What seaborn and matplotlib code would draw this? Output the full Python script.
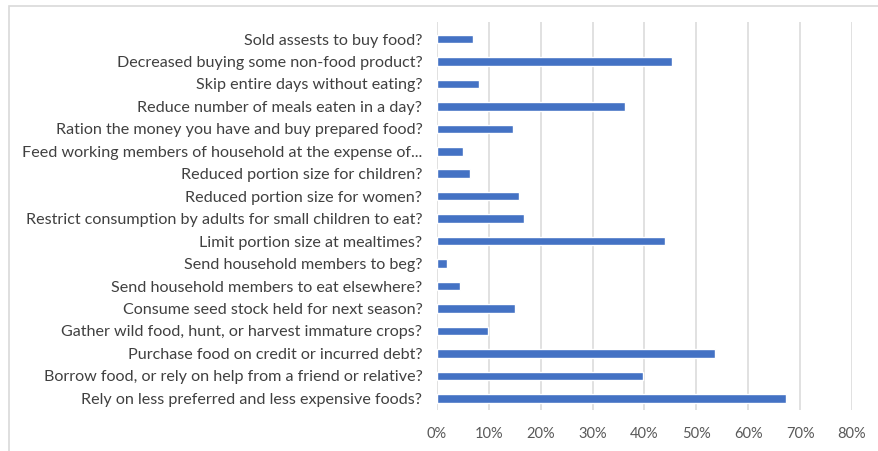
import matplotlib
matplotlib.use("Agg")
import matplotlib.pyplot as plt
import matplotlib.patches as mpatches
from matplotlib.ticker import FuncFormatter
import pandas as pd
import seaborn as sns

# Coping strategies and share of households reporting each
strategies = [
    "Sold assests to buy food?",
    "Decreased buying some non-food product?",
    "Skip entire days without eating?",
    "Reduce number of meals eaten in a day?",
    "Ration the money you have and buy prepared food?",
    "Feed working members of household at the expense of...",
    "Reduced portion size for children?",
    "Reduced portion size for women?",
    "Restrict consumption by adults for small children to eat?",
    "Limit portion size at mealtimes?",
    "Send household members to beg?",
    "Send household members to eat elsewhere?",
    "Consume seed stock held for next season?",
    "Gather wild food, hunt, or harvest immature crops?",
    "Purchase food on credit or incurred debt?",
    "Borrow food, or rely on help from a friend or relative?",
    "Rely on less preferred and less expensive foods?",
]
shares = [0.070, 0.453, 0.081, 0.362, 0.147, 0.051, 0.064, 0.159,
          0.167, 0.439, 0.019, 0.044, 0.150, 0.099, 0.536, 0.397, 0.672]
x_ticks = [0.0, 0.1, 0.2, 0.3, 0.4, 0.5, 0.6, 0.7, 0.8]

df = pd.DataFrame({"strategy": strategies, "share": shares})

sns.set_theme(style="white")
plt.rcParams["font.family"] = ["Lato", "DejaVu Sans"]

W, H = 879, 451
fig = plt.figure(figsize=(W / 100, H / 100), dpi=100)
ax = fig.add_axes([437 / W, 1 - 410 / H, (852 - 437) / W, (410 - 22) / H])

sns.barplot(data=df, x="share", y="strategy", orient="h", color="#4472C4",
            saturation=1, width=0.38, ax=ax, zorder=3)

ax.set_xlim(0, 0.8)
ax.set_ylim(16.52, -0.757)
ax.set_xticks(x_ticks)
ax.xaxis.set_major_formatter(FuncFormatter(lambda v, _: f"{v * 100:.0f}%"))
ax.grid(axis="x", color="#D9D9D9", linewidth=1.1, zorder=0)
ax.grid(axis="y", visible=False)
for s in ax.spines.values():
    s.set_visible(False)
ax.set_xlabel("")
ax.set_ylabel("")
ax.tick_params(axis="x", length=0, pad=12, labelsize=10.5, labelcolor="#595959")
ax.tick_params(axis="y", length=0, pad=10.5, labelsize=11.6, labelcolor="#404040")

# Chart frame
fig.patches.append(mpatches.Rectangle((9 / W, -0.05), 1.1, 1 - 6 / H + 0.05,
                                      transform=fig.transFigure, fill=False,
                                      edgecolor="#D9D9D9", linewidth=1.2))

fig.savefig("out.png", dpi=100)
